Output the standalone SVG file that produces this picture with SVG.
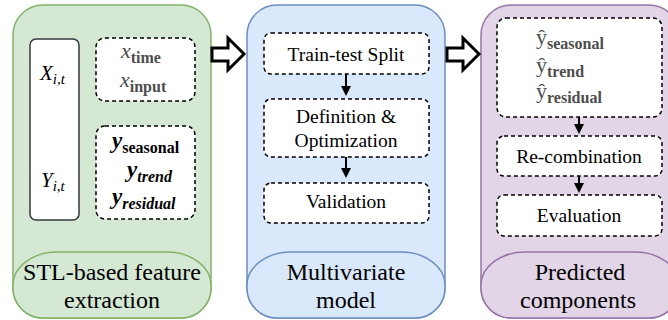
<svg xmlns="http://www.w3.org/2000/svg" width="668" height="320" viewBox="0 0 668 320">
<style>
text{font-family:'Times New Roman','Liberation Serif',serif;fill:#000}
.t{font-size:19.5px;text-anchor:middle}
.big{font-size:24px;text-anchor:middle}
.dash{fill:#fff;stroke:#000;stroke-width:1.5;stroke-dasharray:4 3}
.g{fill:#d5e8d4;stroke:#82b366;stroke-width:1.5}
.b{fill:#dae8fc;stroke:#6c8ebf;stroke-width:1.5}
.p{fill:#e1d5e7;stroke:#9673a6;stroke-width:1.5}
.blk{fill:#fff;stroke:#000;stroke-width:3}
.ln{stroke:#000;stroke-width:2;fill:none}
.hd{fill:#000}
.gr{fill:#4d4d4d}
</style>

<g id="stl">
<rect class="g" x="13" y="5" width="198" height="313" rx="30" ry="30"/>
<path class="g" d="M13,288 L13,285 A44,33 0 0 1 57,252 L167,252 A44,33 0 0 1 211,285 L211,288 A30,30 0 0 1 181,318 L43,318 A30,30 0 0 1 13,288 Z"/>
<text class="big" x="112" y="280">STL-based feature</text>
<text class="big" x="112" y="308">extraction</text>
</g>
<g id="xy">
<rect x="30" y="39" width="49" height="181" rx="6" fill="#fff" stroke="#36393d" stroke-width="1.5"/>
<text x="40" y="80" font-size="21" font-style="italic">X<tspan font-size="15" dy="4">i,t</tspan></text>
<text x="41" y="187" font-size="21" font-style="italic">Y<tspan font-size="15" dy="4">i,t</tspan></text>
</g>
<g id="xin">
<rect class="dash" x="96" y="38" width="99" height="63" rx="9"/>
<text class="gr" x="121" y="58" font-size="22" font-style="italic">x<tspan font-weight="bold" font-style="normal" font-size="16" dy="5">time</tspan></text>
<text class="gr" x="120" y="87" font-size="22" font-style="italic">x<tspan font-weight="bold" font-style="normal" font-size="16" dy="5">input</tspan></text>
</g>
<g id="yout">
<rect class="dash" x="96" y="126" width="99" height="93" rx="9"/>
<text x="112" y="148" font-size="23" font-style="italic" font-weight="bold">y<tspan font-size="16" font-style="normal" dy="5">seasonal</tspan></text>
<text x="127" y="177" font-size="23" font-style="italic" font-weight="bold">y<tspan font-size="16" dy="5">trend</tspan></text>
<text x="112" y="204" font-size="23" font-style="italic" font-weight="bold">y<tspan font-size="16" dy="5">residual</tspan></text>
</g>

<g id="mv">
<rect class="b" x="247" y="5" width="198" height="313" rx="30" ry="30"/>
<path class="b" d="M247,288 L247,285 A44,33 0 0 1 291,252 L401,252 A44,33 0 0 1 445,285 L445,288 A30,30 0 0 1 415,318 L277,318 A30,30 0 0 1 247,288 Z"/>
<text class="big" x="346" y="280">Multivariate</text>
<text class="big" x="346" y="308">model</text>
</g>
<g id="split">
<rect class="dash" x="264" y="33" width="165" height="41" rx="7"/>
<text class="t" x="346" y="61">Train-test Split</text>
</g>
<g id="defopt">
<rect class="dash" x="264" y="99" width="165" height="58" rx="7"/>
<text class="t" x="346" y="123">Definition &amp;</text>
<text class="t" x="346" y="147">Optimization</text>
</g>
<g id="valid">
<rect class="dash" x="264" y="183" width="165" height="40" rx="7"/>
<text class="t" x="346" y="208">Validation</text>
</g>

<g id="pc">
<rect class="p" x="481" y="5" width="198" height="313" rx="30" ry="30"/>
<path class="p" d="M481,288 L481,285 A44,33 0 0 1 525,252 L635,252 A44,33 0 0 1 679,285 L679,288 A30,30 0 0 1 649,318 L511,318 A30,30 0 0 1 481,288 Z"/>
<text class="big" x="580" y="280">Predicted</text>
<text class="big" x="578" y="308">components</text>
</g>
<g id="yhat">
<rect class="dash" x="497" y="18" width="165" height="99" rx="9"/>
<text class="gr" x="536" y="44" font-size="22">&#375;<tspan font-weight="bold" font-size="16" dy="5">seasonal</tspan></text>
<text class="gr" x="536" y="72" font-size="22">&#375;<tspan font-weight="bold" font-size="16" dy="5">trend</tspan></text>
<text class="gr" x="536" y="98" font-size="22">&#375;<tspan font-weight="bold" font-size="16" dy="5">residual</tspan></text>
</g>
<g id="recomb">
<rect class="dash" x="497" y="136" width="165" height="40" rx="7"/>
<text class="t" x="579" y="163">Re-combination</text>
</g>
<g id="eval">
<rect class="dash" x="497" y="195" width="165" height="41" rx="7"/>
<text class="t" x="579" y="222">Evaluation</text>
</g>

<g id="connectors">
<path class="blk" d="M212,48 L228,48 L228,38 L244,54 L228,70 L228,61 L212,61 Z"/>
<path class="blk" d="M447,48 L463,48 L463,38 L479,54 L463,70 L463,61 L447,61 Z"/>
<line class="ln" x1="346" y1="74" x2="346" y2="88"/>
<path class="hd" d="M341,86 L351,86 L346,96 Z"/>
<line class="ln" x1="346" y1="157" x2="346" y2="170"/>
<path class="hd" d="M341,168 L351,168 L346,178 Z"/>
<line class="ln" x1="579" y1="117" x2="579" y2="126"/>
<path class="hd" d="M574,124 L584,124 L579,134 Z"/>
<line class="ln" x1="579" y1="176" x2="579" y2="185"/>
<path class="hd" d="M574,183 L584,183 L579,193 Z"/>
</g>
</svg>
